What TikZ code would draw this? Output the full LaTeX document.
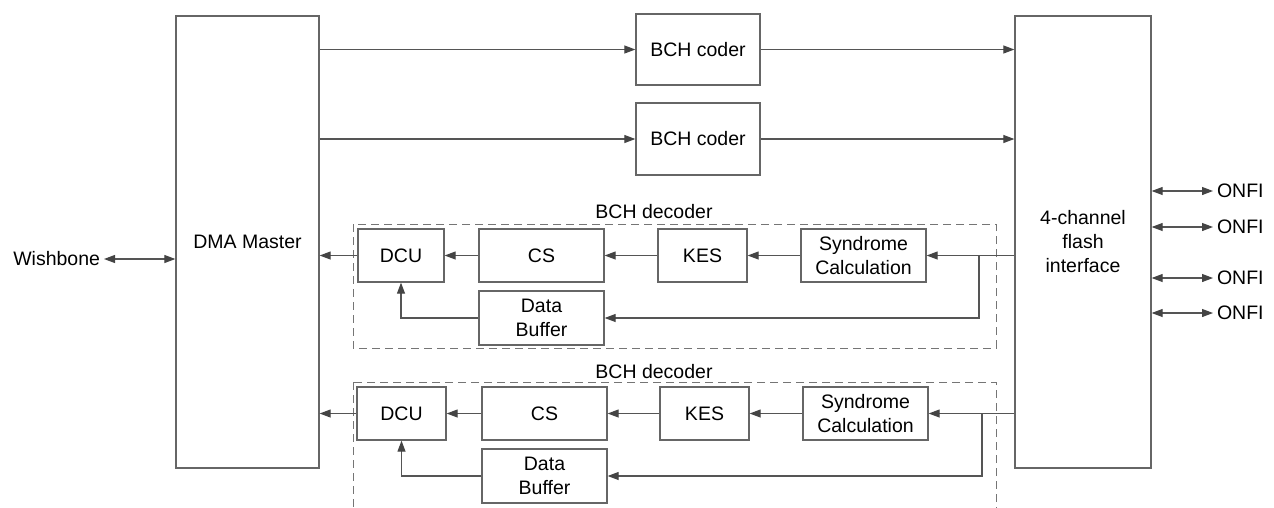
\documentclass[tikz,border=0pt]{standalone}
\usepackage{fontspec}
\setmainfont{Liberation Sans}
\usetikzlibrary{arrows.meta}
\definecolor{linec}{HTML}{555555}
\definecolor{boxc}{HTML}{666666}
\definecolor{tipc}{HTML}{444444}
\begin{document}
\begin{tikzpicture}[x=1pt,y=-1pt,
  every node/.style={font=\fontsize{19.5}{24}\selectfont, text=black},
  blk/.style={draw=boxc, line width=1.3pt, fill=white, inner sep=0pt, align=center},
  arr/.style={draw=linec, line width=1.1pt, -{Triangle[length=11pt,width=8pt,color=tipc]}},
  darr/.style={draw=linec, line width=1.1pt, {Triangle[length=11pt,width=8pt,color=tipc]}-{Triangle[length=11pt,width=8pt,color=tipc]}},
  dbox/.style={draw=boxc!90, line width=1pt, dash pattern=on 8pt off 5pt},
  lbl/.style={inner sep=0pt},
  ext/.style={inner sep=0pt, outer sep=4pt}]
\useasboundingbox (0,0) rectangle (1274,507);
\clip (0,0) rectangle (1274,507);
% big blocks
\node[blk, minimum width=143pt, minimum height=452pt] (dma) at (247.5,242) {DMA Master};
\node[blk, minimum width=136pt, minimum height=452pt] (flash) at (1083,242) {4-channel\\flash\\interface};
% coders
\node[blk, minimum width=124pt, minimum height=71pt] (coder1) at (698,49.5) {BCH coder};
\node[blk, minimum width=124pt, minimum height=72pt] (coder2) at (698,139) {BCH coder};
% decoder 1
\draw[dbox] (353,224) rectangle (996,348);
\node[lbl] (dec1) at (654,212) {BCH decoder};
\node[blk, minimum width=86pt, minimum height=53pt] (dcu1) at (401,255.5) {DCU};
\node[blk, minimum width=125pt, minimum height=53pt] (cs1) at (541.5,255.5) {CS};
\node[blk, minimum width=89pt, minimum height=53pt] (kes1) at (702.5,255.5) {KES};
\node[blk, minimum width=125pt, minimum height=53pt] (syn1) at (863.5,255.5) {Syndrome\\Calculation};
\node[blk, minimum width=125pt, minimum height=54pt] (db1) at (541.5,318) {Data\\Buffer};
% decoder 2
\draw[dbox] (353,382) rectangle (996,530);
\node[lbl] (dec2) at (654,372) {BCH decoder};
\node[blk, minimum width=89pt, minimum height=53pt] (dcu2) at (401.5,413.5) {DCU};
\node[blk, minimum width=125pt, minimum height=53pt] (cs2) at (544.5,413.5) {CS};
\node[blk, minimum width=89pt, minimum height=53pt] (kes2) at (704.5,413.5) {KES};
\node[blk, minimum width=125pt, minimum height=53pt] (syn2) at (865.5,413.5) {Syndrome\\Calculation};
\node[blk, minimum width=125pt, minimum height=54pt] (db2) at (544.5,476) {Data\\Buffer};
% external labels
\node[ext, anchor=east] (wb) at (104,259) {Wishbone};
\node[ext, anchor=west] (o1) at (1213,191) {ONFI};
\node[ext, anchor=west] (o2) at (1213,227) {ONFI};
\node[ext, anchor=west] (o3) at (1213,278) {ONFI};
\node[ext, anchor=west] (o4) at (1213,313) {ONFI};
% coder connections
\draw[arr] (dma.east |- coder1) -- (coder1.west);
\draw[arr] (coder1.east) -- (coder1 -| flash.west);
\draw[arr] (dma.east |- coder2) -- (coder2.west);
\draw[arr] (coder2.east) -- (coder2 -| flash.west);
% decoder 1 connections
\draw[arr] (flash.west |- syn1) -- (syn1.east);
\draw[arr] (syn1.west) -- (kes1.east);
\draw[arr] (kes1.west) -- (cs1.east);
\draw[arr] (cs1.west) -- (dcu1.east);
\draw[arr] (dcu1.west) -- (dcu1.west -| dma.east);
\coordinate (br1) at (979,255.5);
\draw[arr] (br1) |- (db1.east);
\draw[arr] (db1.west) -| (dcu1.south);
% decoder 2 connections
\draw[arr] (flash.west |- syn2) -- (syn2.east);
\draw[arr] (syn2.west) -- (kes2.east);
\draw[arr] (kes2.west) -- (cs2.east);
\draw[arr] (cs2.west) -- (dcu2.east);
\draw[arr] (dcu2.west) -- (dcu2.west -| dma.east);
\coordinate (br2) at (982,413.5);
\draw[arr] (br2) |- (db2.east);
\draw[arr] (db2.west) -| (dcu2.south);
% external
\draw[darr] (wb.east) -- (wb.east -| dma.west);
\draw[darr] (flash.east |- o1) -- (o1.west);
\draw[darr] (flash.east |- o2) -- (o2.west);
\draw[darr] (flash.east |- o3) -- (o3.west);
\draw[darr] (flash.east |- o4) -- (o4.west);
\end{tikzpicture}
\end{document}
